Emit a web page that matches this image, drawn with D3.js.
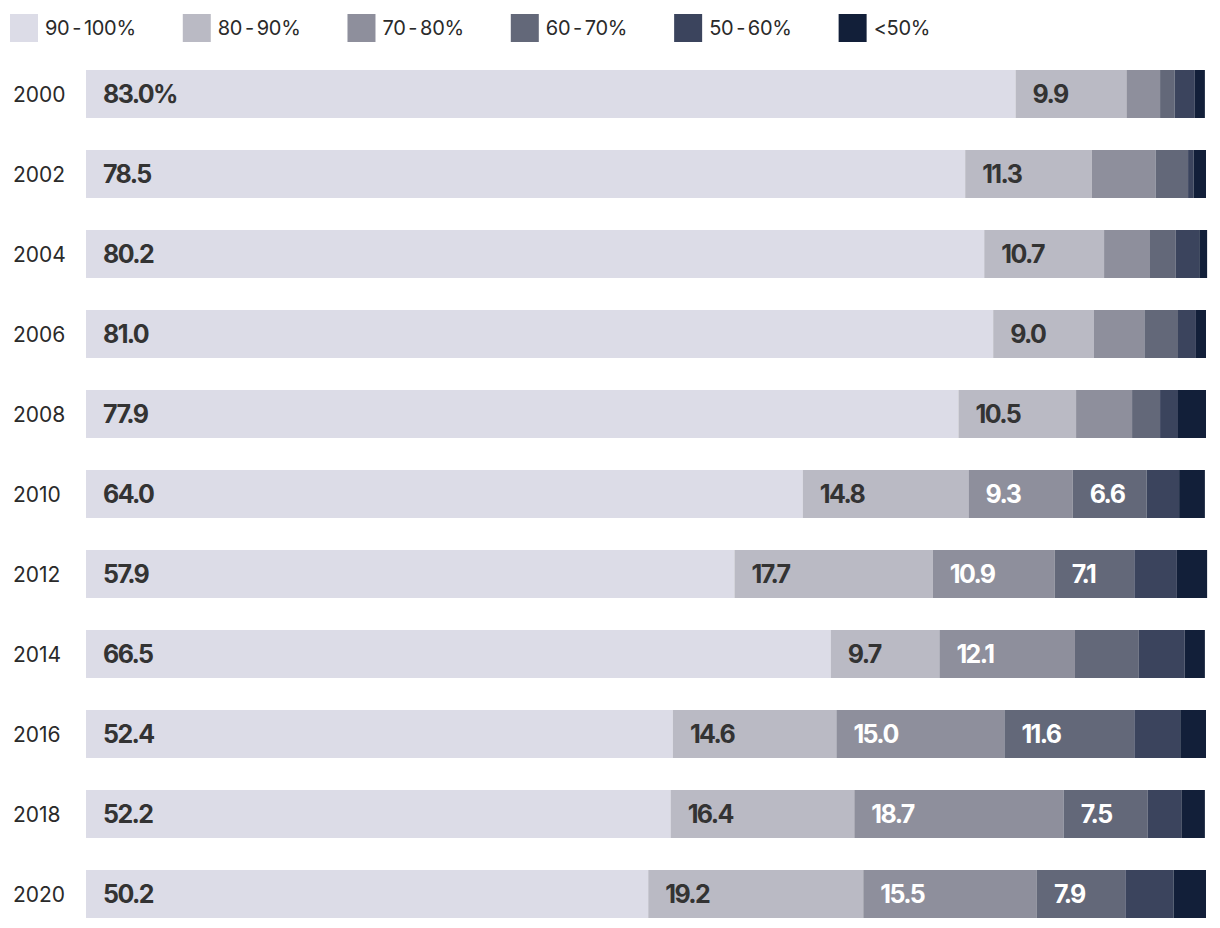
<!DOCTYPE html>
<html>
<head>
<meta charset="utf-8">
<script src="https://cdnjs.cloudflare.com/ajax/libs/d3/7.8.5/d3.min.js"></script>
<style>
    body { margin: 0; background: #fff; }
</style>
</head>
<body>
<script>
    var years = ["2000", "2002", "2004", "2006", "2008", "2010", "2012", "2014", "2016", "2018", "2020"];
    var bands = ["90 - 100%", "80 - 90%", "70 - 80%", "60 - 70%", "50 - 60%", "<50%"];
    var colors = ["#dcdce7", "#babac4", "#8e8f9c", "#636879", "#3b445d", "#121f39"];
    var labelColors = ["#333333", "#333333", "#ffffff", "#ffffff", "#ffffff", "#ffffff"];

    var share90 = [83.0, 78.5, 80.2, 81.0, 77.9, 64.0, 57.9, 66.5, 52.4, 52.2, 50.2];
    var share80 = [9.9, 11.3, 10.7, 9.0, 10.5, 14.8, 17.7, 9.7, 14.6, 16.4, 19.2];
    var share70 = [3.0, 5.7, 4.1, 4.5, 5.0, 9.3, 10.9, 12.1, 15.0, 18.7, 15.5];
    var share60 = [1.3, 2.9, 2.3, 3.0, 2.5, 6.6, 7.1, 5.7, 11.6, 7.5, 7.9];
    var share50 = [1.8, 0.5, 2.1, 1.6, 1.6, 2.9, 3.8, 4.1, 4.1, 3.0, 4.3];
    var shareLow = [0.9, 1.1, 0.7, 0.9, 2.5, 2.3, 2.7, 1.8, 2.3, 2.1, 2.9];

    var series = [share90, share80, share70, share60, share50, shareLow];

    var table = years.map(function(y, i) {
        var row = {year: y};
        bands.forEach(function(b, j) { row[b] = series[j][i]; });
        return row;
    });

    var width = 1220, height = 928;
    var margin = {top: 70, left: 86, right: 14, bottom: 10};

    var svg = d3.select("body").append("svg")
        .attr("width", width)
        .attr("height", height);

    var x = d3.scaleLinear()
        .domain([0, 100])
        .range([margin.left, width - margin.right]);

    var y = d3.scaleBand()
        .domain(years)
        .range([margin.top - 16, margin.top - 16 + 80 * years.length])
        .paddingInner(0.4)
        .paddingOuter(0.2);

    var stack = d3.stack().keys(bands)(table);

    //legend
    var legend = svg.append("g").attr("id", "legend");
    var lx = 10;
    bands.forEach(function(b, i) {
        var g = legend.append("g").attr("transform", "translate(" + lx + ",14)");
        g.append("rect")
            .attr("width", 28)
            .attr("height", 28)
            .attr("fill", colors[i]);
        var t = g.append("text")
            .attr("x", 35)
            .attr("y", 14)
            .attr("dy", "0.36em")
            .text(b)
            .style("font-family", "Inter")
            .style("font-size", "20px")
            .style("letter-spacing", "-0.3px")
            .style("word-spacing", "-2.5px")
            .style("fill", "#2a2a2a");
        lx += 35 + t.node().getComputedTextLength() + 47;
    });

    //year labels
    svg.append("g")
        .attr("id", "years")
        .selectAll("text")
        .data(years)
        .enter()
        .append("text")
        .attr("x", 13)
        .attr("y", d => y(d) + y.bandwidth() / 2)
        .attr("dy", "0.36em")
        .text(d => d)
        .style("font-family", "Inter")
        .style("font-size", "21px")
        .style("fill", "#2a2a2a");

    //bars
    var layers = svg.append("g")
        .attr("id", "bars")
        .selectAll("g")
        .data(stack)
        .enter()
        .append("g")
        .attr("fill", (d, i) => colors[i]);

    layers.selectAll("rect")
        .data(d => d)
        .enter()
        .append("rect")
        .attr("x", d => x(d[0]))
        .attr("y", d => y(d.data.year))
        .attr("width", d => x(d[1]) - x(d[0]))
        .attr("height", y.bandwidth());

    //value labels
    layers.each(function(layer, i) {
        d3.select(this)
            .selectAll("text")
            .data(layer.filter(d => d[1] - d[0] >= 6))
            .enter()
            .append("text")
            .attr("x", d => x(d[0]) + 17)
            .attr("y", d => y(d.data.year) + y.bandwidth() / 2)
            .attr("dy", "0.37em")
            .text(function(d) {
                var v = (d[1] - d[0]).toFixed(1);
                return (i == 0 && d.data.year == "2000") ? v + "%" : v;
            })
            .style("font-family", "Inter")
            .style("font-weight", "700")
            .style("font-size", "25px")
            .style("letter-spacing", "-1.6px")
            .style("fill", labelColors[i]);
    });
</script>
</body>
</html>
